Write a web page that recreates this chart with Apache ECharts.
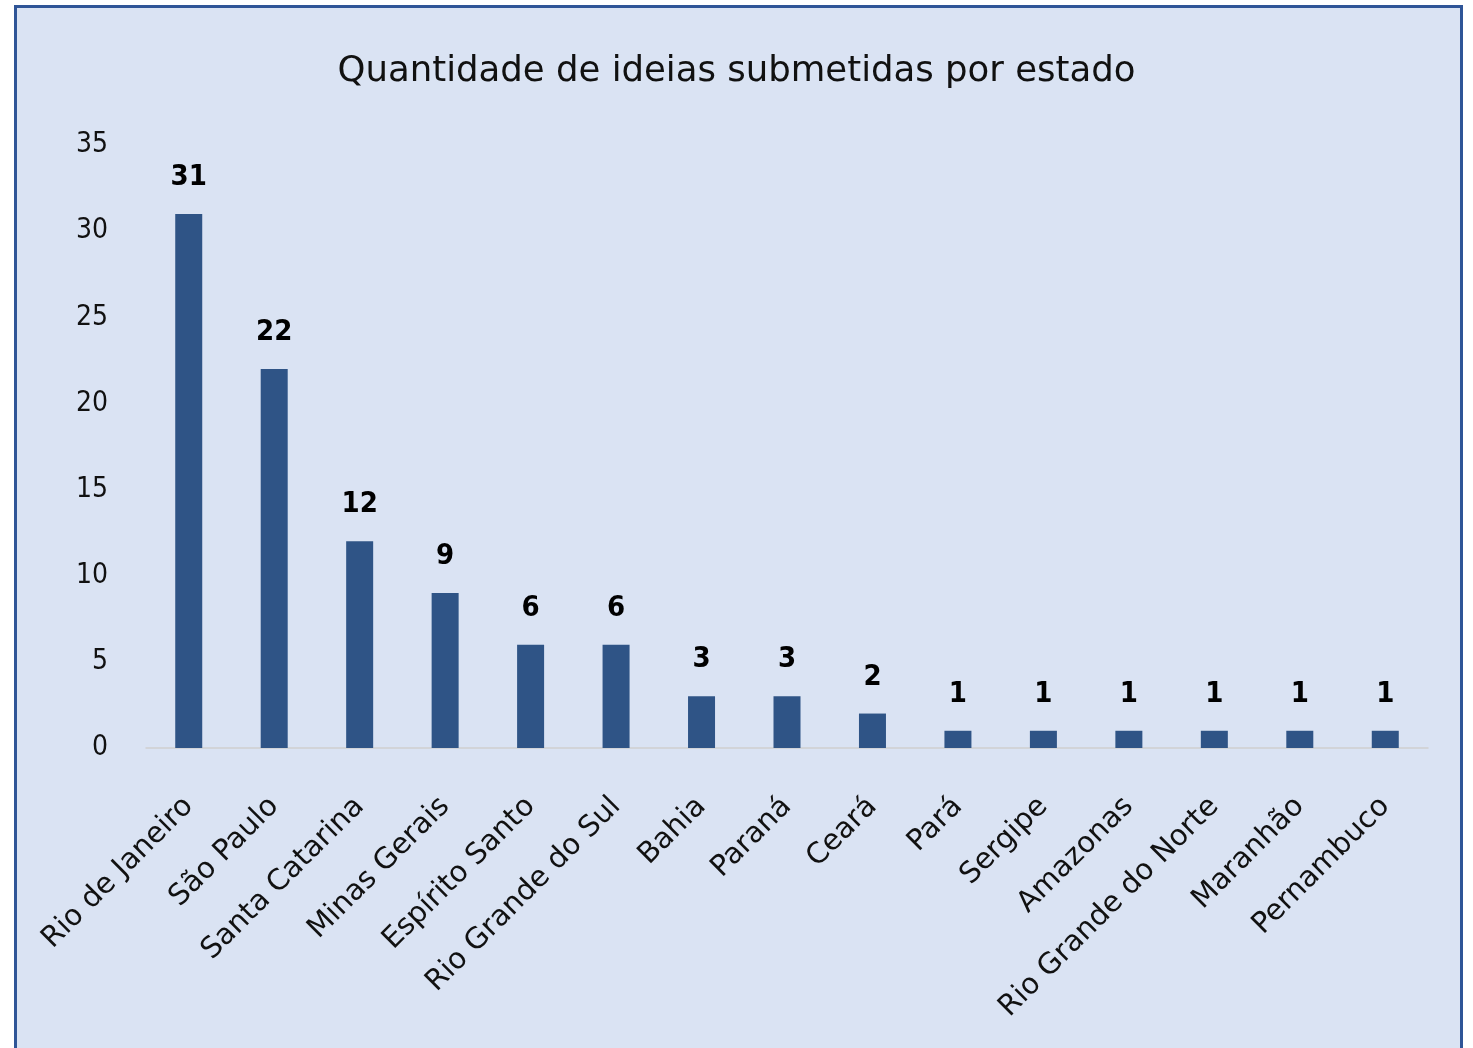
<!DOCTYPE html>
<html><head><meta charset="utf-8">
<script src="https://cdn.jsdelivr.net/npm/echarts@6/dist/echarts.min.js"></script>
<style>html,body{margin:0;padding:0;background:#fff;overflow:hidden}#c{width:1473px;height:1048px}</style>
</head><body><div id="c"></div>
<script>
const categories = ["Rio de Janeiro","São Paulo","Santa Catarina","Minas Gerais","Espírito Santo","Rio Grande do Sul","Bahia","Paraná","Ceará","Pará","Sergipe","Amazonas","Rio Grande do Norte","Maranhão","Pernambuco"];
const values = [31,22,12,9,6,6,3,3,2,1,1,1,1,1,1];
const titleText = "Quantidade de ideias submetidas por estado";
const yMin = 0, yMax = 35, yStep = 5;

const cond = "'DejaVu Sans Condensed', sans-serif";
const wide = "'DejaVu Sans', sans-serif";
const chart = echarts.init(document.getElementById('c'), null, {renderer:'canvas'});
chart.setOption({
  animation:false,
  backgroundColor:'#ffffff',
  graphic:[{type:'rect',z:-10,shape:{x:15.5,y:6.5,width:1446,height:1100},style:{fill:'#DAE3F3',stroke:'#2F5597',lineWidth:3}}],
  title:{text:titleText,left:'center',top:49,textStyle:{fontFamily:wide,fontWeight:'normal',fontSize:35.5,color:'#111'}},
  grid:{left:146,right:45,top:145,bottom:300,containLabel:false},
  xAxis:{type:'category',data:categories,
    axisLine:{show:true,lineStyle:{color:'#d0d0d0',width:1.5}},
    axisTick:{show:false},
    axisLabel:{interval:0,rotate:45,margin:54,fontSize:29,color:'#111',fontFamily:wide}},
  yAxis:{type:'value',min:yMin,max:yMax,interval:yStep,
    axisLine:{show:false},axisTick:{show:false},splitLine:{show:false},
    axisLabel:{fontSize:28,color:'#111',margin:38,fontFamily:cond}},
  series:[{type:'bar',data:values,barWidth:27,
    itemStyle:{color:'#2F5486'},
    label:{show:true,position:'top',distance:22,fontSize:29,fontWeight:'bold',color:'#000',fontFamily:cond}}]
});
</script></body></html>
